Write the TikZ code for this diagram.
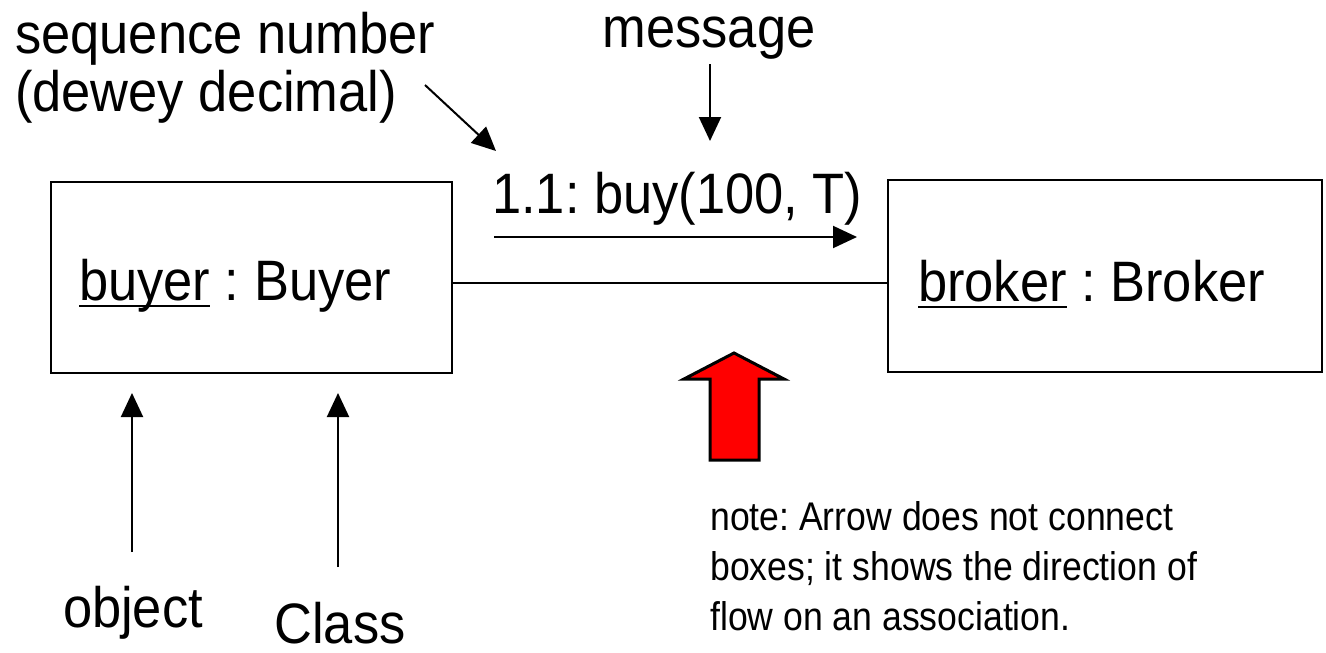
\documentclass[tikz,border=0pt]{standalone}
\usepackage{fontspec}
\newfontfamily\bigf{Liberation Sans}[FakeStretch=0.92]
\newfontfamily\notef{Liberation Sans}[FakeStretch=0.89]
\usetikzlibrary{arrows.meta}
\frenchspacing
% underline that cuts through descenders at a fixed depth
\newsavebox\undlbox
\newcommand\undl[1]{\sbox\undlbox{#1}\rlap{\rule[-0.13em]{\wd\undlbox}{0.038em}}\usebox\undlbox}

\begin{document}
\begin{tikzpicture}[x=1pt,y=-1pt,
  lbl/.style={inner sep=0pt, font=\bigf\fontsize{57}{60}\selectfont},
  notetxt/.style={inner sep=0pt, align=left, font=\notef\fontsize{40}{50}\selectfont},
  objbox/.style={draw, line width=2.2pt, inner sep=0pt},
  arr/.style={line width=2pt, -{Triangle[length=24pt,width=22pt]}},
  assoc/.style={line width=2pt},
  flow/.style={draw=black, fill=red, line width=3pt, line join=miter}]
\useasboundingbox[fill=white] (0,0) rectangle (1326,653);

% object boxes
\node[objbox, minimum width=401pt, minimum height=191pt] (buyer) at (251.5,277.5) {};
\node[objbox, minimum width=434pt, minimum height=192pt] (broker) at (1105,276) {};
\node[lbl, anchor=base west] (buyerName) at (79,300) {\undl{buyer} : Buyer};
\node[lbl, anchor=base west] (brokerName) at (918,301) {\undl{broker} : Broker};

% association link
\coordinate (assocY) at (0,283);
\draw[assoc] (buyer.east |- assocY) -- (broker.west |- assocY);

% message with its direction arrow
\node[lbl, anchor=base west] (call) at (492,213) {1.1: buy(100, T)};
\coordinate (callFrom) at (494,237);
\coordinate (callTo) at (857,237);
\draw[arr] (callFrom) -- (callTo);

% annotations
\node[lbl, anchor=base west] (seqA) at (15,53) {sequence number};
\node[lbl, anchor=base west] (seqB) at (15,111) {(dewey decimal)};
\coordinate (seqTail) at (425,85);
\coordinate (seqTip) at (496,151);
\draw[arr] (seqTail) -- (seqTip);

\node[lbl, anchor=base] (msg) at (709,47) {message};
\coordinate (msgTip) at (710,141);
\draw[arr] ([yshift=-5pt]msg.south -| msgTip) -- (msgTip);

\node[lbl, anchor=base] (objLbl) at (133,627) {object};
\node[lbl, anchor=base] (clsLbl) at (340,643) {Class};
\coordinate (objTail) at (132,552);
\coordinate (clsTail) at (338,567);
\draw[arr] (objTail) -- (objTail |- 0,393);
\draw[arr] (clsTail) -- (clsTail |- 0,393);

% direction-of-flow block arrow
\filldraw[flow] (734,353) -- (784,379) -- (759,379) -- (759,460) -- (710,460) -- (710,379) -- (684,379) -- cycle;

\node[notetxt, anchor=base west] (note) at (710,630)
  {note: Arrow does not connect\\boxes; it shows the direction of\\flow on an association.};
\end{tikzpicture}
\end{document}
